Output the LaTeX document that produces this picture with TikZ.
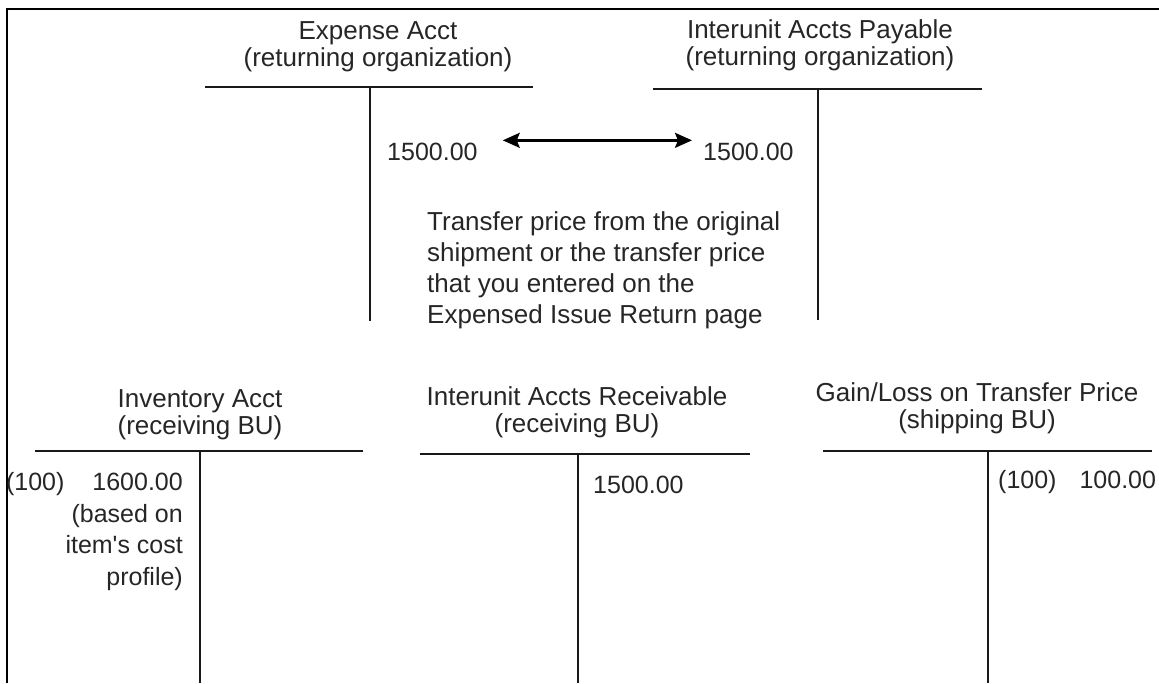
\documentclass[tikz,border=0pt]{standalone}
\usepackage{fontspec}
\setmainfont{Liberation Sans}
\usetikzlibrary{positioning, arrows.meta}
\tikzset{
  acct/.style={
    align=center,
    inner sep=0pt,
    anchor=base,
    text=black!85,
    font=\fontsize{26}{27}\selectfont
  },
  amount/.style={
    inner sep=0pt,
    anchor=base west,
    text=black!85,
    font=\fontsize{25}{31.5}\selectfont
  },
  tline/.style={
    line width=2.6pt,
    black!90
  },
  dblarrow/.style={
    line width=2.4pt,
    {Stealth[length=17pt, width=15pt, inset=3pt]}-{Stealth[length=17pt, width=15pt, inset=3pt]}
  }
}

\begin{document}
\begin{tikzpicture}[x=1pt, y=-1pt]
        \useasboundingbox (0,0) rectangle (1159,683);
        \draw[line width=1.4pt] (7,683) -- (7,9) -- (1159,9);

        % returning organization
        \node[acct] (expense) at (378,66) {Expense Acct\\(returning organization)};
        \coordinate (expense-l) at (205,87);
        \coordinate (expense-r) at (533,87);
        \coordinate (expense-t) at (370,87);
        \coordinate (expense-b) at (370,321);
        \draw[tline] (expense-l) -- (expense-r);
        \draw[tline] (expense-t) -- (expense-b);

        \node[acct] (payable) at (820,65) {Interunit Accts Payable\\(returning organization)};
        \coordinate (payable-l) at (653,89);
        \coordinate (payable-r) at (982,89);
        \coordinate (payable-t) at (818,89);
        \coordinate (payable-b) at (818,320);
        \draw[tline] (payable-l) -- (payable-r);
        \draw[tline] (payable-t) -- (payable-b);

        \node[amount] (expense-amt) at (387,160) {1500.00};
        \node[amount] (payable-amt) at (703,160) {1500.00};
        \draw[dblarrow] ([xshift=25pt, yshift=2pt]expense-amt.north east) -- ([xshift=-11pt, yshift=2pt]payable-amt.north west);

        \node[amount, align=left, font=\fontsize{26}{31}\selectfont] (price) at (427,323)
          {Transfer price from the original\\shipment or the transfer price\\that you entered on the\\Expensed Issue Return page};

        % receiving / shipping BU
        \node[acct] (inventory) at (200,434) {Inventory Acct\\(receiving BU)};
        \coordinate (inventory-l) at (35,451);
        \coordinate (inventory-r) at (363,451);
        \coordinate (inventory-t) at (200,451);
        \coordinate (inventory-b) at (200,683);
        \draw[tline] (inventory-l) -- (inventory-r);
        \draw[tline] (inventory-t) -- (inventory-b);

        \node[acct] (receivable) at (577,432) {Interunit Accts Receivable\\(receiving BU)};
        \coordinate (receivable-l) at (420,454);
        \coordinate (receivable-r) at (750,454);
        \coordinate (receivable-t) at (578,454);
        \coordinate (receivable-b) at (578,683);
        \draw[tline] (receivable-l) -- (receivable-r);
        \draw[tline] (receivable-t) -- (receivable-b);

        \node[acct] (gainloss) at (977,428) {Gain/Loss on Transfer Price\\(shipping BU)};
        \coordinate (gainloss-l) at (823,451);
        \coordinate (gainloss-r) at (1152,451);
        \coordinate (gainloss-t) at (988,451);
        \coordinate (gainloss-b) at (988,683);
        \draw[tline] (gainloss-l) -- (gainloss-r);
        \draw[tline] (gainloss-t) -- (gainloss-b);

        \node[amount, anchor=base east, align=right] (inventory-amt) at (183,585)
          {(100)\hspace{28pt}1600.00\\(based on\\item\textquotesingle s cost\\profile)};
        \node[amount] (receivable-amt) at (593,493) {1500.00};
        \node[amount] (gainloss-amt) at (998,488) {(100)\hspace{23pt}100.00};
      \end{tikzpicture}
\end{document}
